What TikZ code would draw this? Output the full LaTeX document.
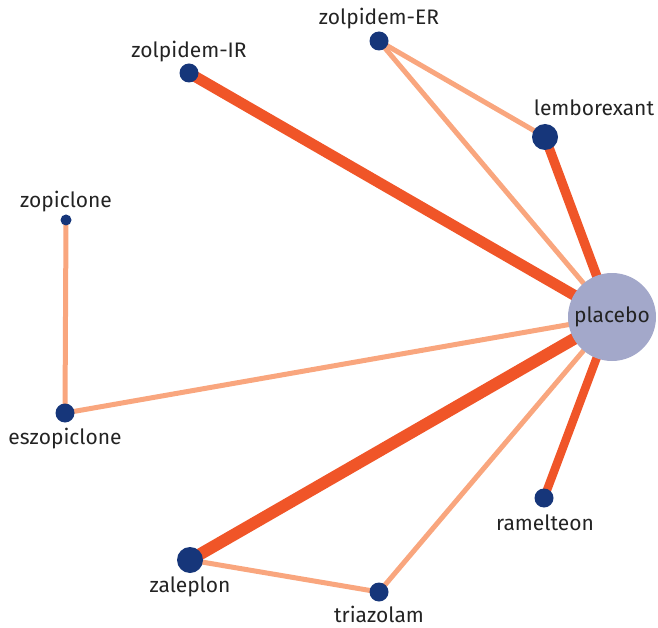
\documentclass[tikz,border=0pt]{standalone}
\usepackage{fontspec}
\setmainfont{Fira Sans}
\usepackage{tikz}
\usetikzlibrary{
  positioning, backgrounds
}
\definecolor{navynode}{RGB}{22,54,122}
\definecolor{placebocol}{RGB}{163,168,202}
\definecolor{strongedge}{RGB}{240,85,40}
\definecolor{weakedge}{RGB}{249,166,126}
\definecolor{labeltext}{RGB}{35,35,35}
\tikzset{
  drugnode/.style={circle,fill=navynode,inner sep=0pt},
  refnode/.style={circle,fill=placebocol,inner sep=0pt,minimum size=88pt,text=labeltext,font=\fontsize{21}{24}\selectfont},
  drugname/.style={text=labeltext,inner sep=0pt,font=\fontsize{21}{24}\selectfont},
  weakline/.style={draw=weakedge,line width=5pt},
  strongline/.style={draw=strongedge,line width=#1},
  strongline/.default=10pt
}

\begin{document}
\begin{tikzpicture}[x=1pt,y=-1pt]
  \useasboundingbox (0,0) rectangle (658,628);
  \node[refnode] (placebo) at (612,317) {placebo};
  \node[drugnode,minimum size=19pt] (zolIR) at (189,73) {};
  \node[drugnode,minimum size=19pt] (zolER) at (379,41) {};
  \node[drugnode,minimum size=26pt] (lembo) at (545,137) {};
  \node[drugnode,minimum size=11pt] (zopi) at (66,220) {};
  \node[drugnode,minimum size=19pt] (eszo) at (65,413) {};
  \node[drugnode,minimum size=26pt] (zale) at (190,560) {};
  \node[drugnode,minimum size=19pt] (tria) at (379,592) {};
  \node[drugnode,minimum size=19pt] (ramel) at (544,498) {};

  \node[drugname] (zolIRlbl) at (189,52) {zolpidem-IR};
  \node[drugname] (zolERlbl) at (379,19) {zolpidem-ER};
  \node[drugname] (lembolbl) at (594,108) {lemborexant};
  \node[drugname] (zopilbl) at (66,202) {zopiclone};
  \node[drugname] (eszolbl) at (65,439) {eszopiclone};
  \node[drugname] (zalelbl) at (190,587) {zaleplon};
  \node[drugname] (trialbl) at (379,614) {triazolam};
  \node[drugname] (ramellbl) at (545,523) {ramelteon};

  \begin{pgfonlayer}{background}
    \draw[strongline=11pt] (zolIR.center)--(placebo.center);
    \draw[strongline=9.5pt] (lembo.center)--(placebo.center);
    \draw[strongline=12pt] (zale.center)--(placebo.center);
    \draw[strongline=8.5pt] (ramel.center)--(placebo.center);
    \draw[weakline] (zolER.center)--(placebo.center); \draw[weakline] (zolER.center)--(lembo.center);
    \draw[weakline] (zopi.center)--(eszo.center); \draw[weakline] (eszo.center)--(placebo.center);
    \draw[weakline] (zale.center)--(tria.center); \draw[weakline] (tria.center)--(placebo.center);
  \end{pgfonlayer}
\end{tikzpicture}
\end{document}
